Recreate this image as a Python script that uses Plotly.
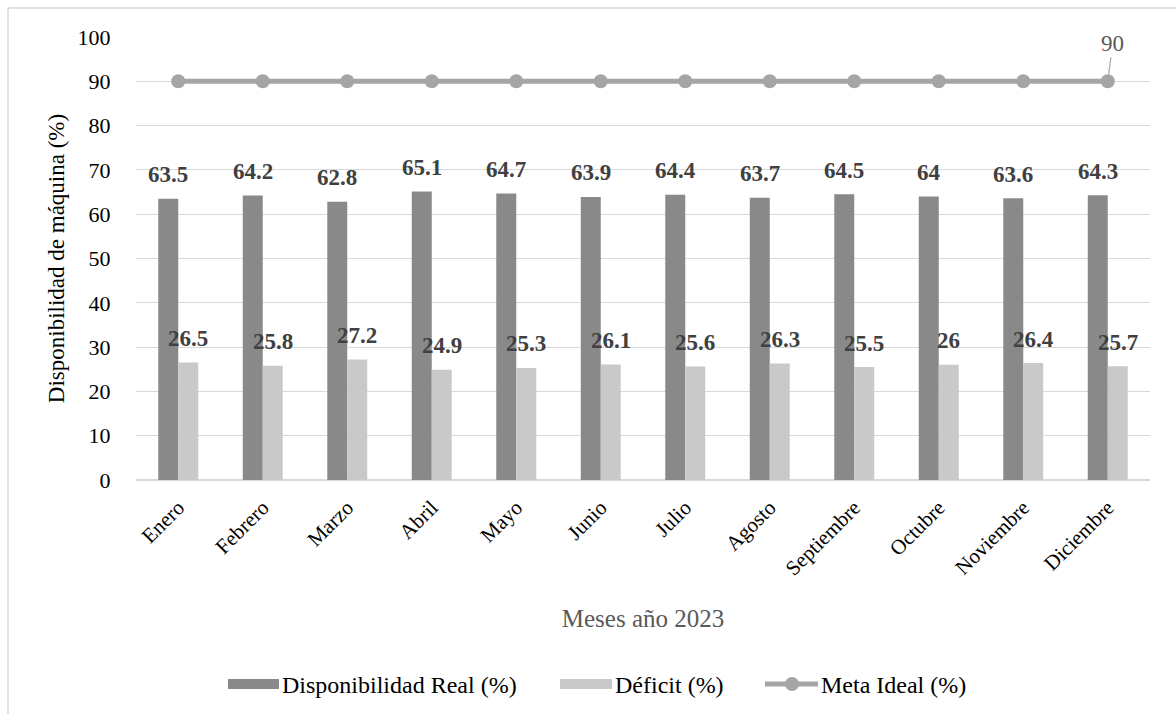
import plotly.graph_objects as go

meses = ["Enero", "Febrero", "Marzo", "Abril", "Mayo", "Junio", "Julio",
         "Agosto", "Septiembre", "Octubre", "Noviembre", "Diciembre"]
disponibilidad = [63.5, 64.2, 62.8, 65.1, 64.7, 63.9, 64.4, 63.7, 64.5, 64.0, 63.6, 64.3]
deficit = [26.5, 25.8, 27.2, 24.9, 25.3, 26.1, 25.6, 26.3, 25.5, 26.0, 26.4, 25.7]
meta = [90] * 12
y_ticks = [0, 10, 20, 30, 40, 50, 60, 70, 80, 90, 100]

FONT = "Liberation Serif"
C_REAL = "#898989"
C_DEF = "#C9C9C9"
C_META = "#A5A5A5"
C_GRID = "#D9D9D9"

W, H = 1176, 714
M_L, M_R, M_T, M_B = 136, 26, 37, 234
PW, PH = W - M_L - M_R, H - M_T - M_B


def px(x):
    """pixel x -> paper x"""
    return (x - M_L) / PW


def py(y):
    """pixel y -> paper y"""
    return (H - M_B - y) / PH


fig = go.Figure()
fig.add_trace(go.Bar(name="Disponibilidad Real (%)", x=meses, y=disponibilidad,
                     marker=dict(color=C_REAL, line=dict(width=0))))
fig.add_trace(go.Bar(name="Déficit (%)", x=meses, y=deficit,
                     marker=dict(color=C_DEF, line=dict(width=0))))
fig.add_trace(go.Scatter(name="Meta Ideal (%)", x=meses, y=meta, mode="lines+markers",
                         line=dict(color=C_META, width=5),
                         marker=dict(color=C_META, size=14)))

# value labels above each bar
label_font = dict(family=FONT, size=23, color="#404040")
for m, v in zip(meses, disponibilidad):
    fig.add_annotation(x=m, y=v, text=f"<b>{v:g}</b>", showarrow=False,
                       xshift=-10, yshift=24, font=label_font)
for m, v in zip(meses, deficit):
    fig.add_annotation(x=m, y=v, text=f"<b>{v:g}</b>", showarrow=False,
                       xshift=10, yshift=24, font=label_font)

# goal label on the last point with a leader line
fig.add_annotation(x=meses[-1], y=meta[-1], text=str(meta[-1]), showarrow=True,
                   arrowhead=0, arrowwidth=1.2, arrowcolor=C_META, ax=5, ay=-38,
                   standoff=7, font=dict(family=FONT, size=23, color="#595959"))

# chart frame (top and left edges)
fig.add_shape(type="line", xref="paper", yref="paper",
              x0=px(8), x1=px(W), y0=py(8), y1=py(8),
              line=dict(color=C_GRID, width=1.5))
fig.add_shape(type="line", xref="paper", yref="paper",
              x0=px(8), x1=px(8), y0=py(8), y1=py(H),
              line=dict(color=C_GRID, width=1.5))

# legend drawn along the bottom
leg_y = 684
leg_font = dict(family=FONT, size=24, color="#000000")
for x0, x1, color in [(228, 279, C_REAL), (560, 612, C_DEF)]:
    fig.add_shape(type="rect", xref="paper", yref="paper",
                  x0=px(x0), x1=px(x1), y0=py(leg_y - 5), y1=py(leg_y + 5),
                  fillcolor=color, line=dict(width=0))
fig.add_shape(type="line", xref="paper", yref="paper",
              x0=px(765), x1=px(818), y0=py(leg_y), y1=py(leg_y),
              line=dict(color=C_META, width=5))
fig.add_shape(type="circle", xref="paper", yref="paper",
              x0=px(785), x1=px(799), y0=py(leg_y + 7), y1=py(leg_y - 7),
              fillcolor=C_META, line=dict(width=0))
for x0, name in [(280, "Disponibilidad Real (%)"), (613, "Déficit (%)"),
                 (819, "Meta Ideal (%)")]:
    fig.add_annotation(xref="paper", yref="paper", x=px(x0), y=py(leg_y + 1),
                       text=name, showarrow=False, xanchor="left", yanchor="middle",
                       font=leg_font)

fig.update_layout(
    width=W, height=H,
    margin=dict(l=M_L, r=M_R, t=M_T, b=M_B),
    paper_bgcolor="white", plot_bgcolor="white",
    barmode="group", bargap=0.527, bargroupgap=0,
    showlegend=False,
    font=dict(family=FONT, color="#000000"),
    xaxis=dict(
        range=[-0.5, len(meses) - 0.5],
        tickangle=-45, tickfont=dict(family=FONT, size=21, color="#000000"),
        title=dict(text="Meses año 2023", font=dict(family=FONT, size=25, color="#595959"),
                   standoff=30),
        showgrid=False, showline=False, ticks="outside", ticklen=6,
        tickcolor="rgba(0,0,0,0)", automargin=False,
    ),
    yaxis=dict(
        range=[0, 100], tickvals=y_ticks, showgrid=True, gridcolor=C_GRID, gridwidth=1,
        zeroline=True, zerolinecolor=C_GRID, zerolinewidth=1.5,
        tickfont=dict(family=FONT, size=22, color="#000000"),
        ticks="outside", ticklen=20, tickcolor="rgba(0,0,0,0)",
        title=dict(text="Disponibilidad de máquina (%)",
                   font=dict(family=FONT, size=23, color="#000000"), standoff=6),
        automargin=False,
    ),
)

fig.write_html("out.html")
